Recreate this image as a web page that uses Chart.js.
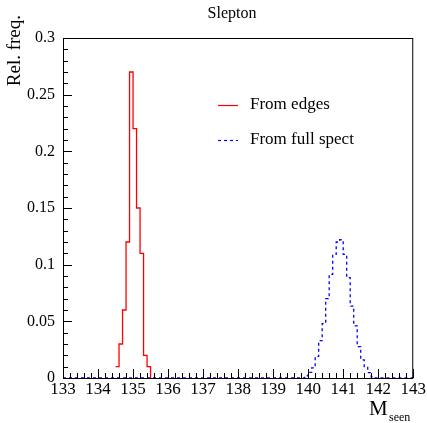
<!DOCTYPE html>
<html>
<head>
<meta charset="utf-8">
<script src="https://cdn.jsdelivr.net/npm/chart.js@4/dist/chart.umd.min.js"></script>
<style>
  html, body { margin: 0; padding: 0; background: #fff; }
  #wrap { width: 427px; height: 423px; }
</style>
</head>
<body>
<div id="wrap"><canvas id="c" width="427" height="423"></canvas></div>
<script>
// 軸の範囲とビン幅
const xMin = 133, xMax = 143, binWidth = 0.1;
const xTickLabels = [133, 134, 135, 136, 137, 138, 139, 140, 141, 142, 143];
const yTickLabels = [0, 0.05, 0.1, 0.15, 0.2, 0.25, 0.3];

// From edges (赤)
const edgesStart = 134.5;
const edgesValues = [0.010, 0.030, 0.060, 0.120, 0.270, 0.220, 0.150, 0.110, 0.020, 0.010];

// From full spect (青, 点線)
const fullStart = 139.9;
const fullValues = [0.002, 0.005, 0.009, 0.019, 0.033, 0.048, 0.070, 0.0915, 0.109, 0.120,
                    0.122, 0.109, 0.0885, 0.0635, 0.046, 0.0276, 0.016, 0.010, 0.0047, 0.001];

const seriesLabels = ['From edges', 'From full spect'];

// ヒストグラムの階段点を作る
function histPoints(start, values, from, to) {
    const pts = [];
    const n = Math.round((to - from) / binWidth);
    for (let i = 0; i < n; i++) {
        const x = +(from + i * binWidth).toFixed(2);
        const k = Math.round((x - start) / binWidth);
        pts.push({ x: x, y: (k >= 0 && k < values.length) ? values[k] : 0 });
    }
    pts.push({ x: to, y: 0 });
    return pts;
}

const serif = "'Liberation Serif', 'DejaVu Serif', serif";

// 枠・目盛り・凡例・タイトル
const decorPlugin = {
    id: 'decor',
    afterDraw(chart) {
        const ctx = chart.ctx;
        const a = chart.chartArea;
        const xs = chart.scales.x, ys = chart.scales.y;
        ctx.save();
        ctx.strokeStyle = '#000';
        ctx.lineWidth = 1;
        ctx.strokeRect(a.left + 0.5, a.top + 0.5, a.right - a.left - 1, a.bottom - a.top);

        // x の目盛り (主 1, 副 0.2)
        ctx.beginPath();
        for (let i = 0; i <= 50; i++) {
            const v = xMin + i * 0.2;
            const px = Math.round(xs.getPixelForValue(v)) + 0.5;
            const len = (i % 5 === 0) ? 9 : 5;
            ctx.moveTo(px, a.bottom);
            ctx.lineTo(px, a.bottom - len);
        }
        // y の目盛り (主 0.05, 副 0.01)
        for (let i = 0; i <= 30; i++) {
            const v = i * 0.01;
            const py = Math.round(ys.getPixelForValue(v)) + 0.5;
            const len = (i % 5 === 0) ? 9 : 5;
            ctx.moveTo(a.left, py);
            ctx.lineTo(a.left + len, py);
        }
        ctx.stroke();

        // タイトル
        ctx.fillStyle = '#000';
        ctx.textAlign = 'center';
        ctx.textBaseline = 'middle';
        ctx.font = '16px ' + serif;
        ctx.fillText('Slepton', 232, 14);

        // y 軸タイトル (上端揃え)
        ctx.save();
        ctx.translate(15, 15);
        ctx.rotate(-Math.PI / 2);
        ctx.textAlign = 'right';
        ctx.textBaseline = 'middle';
        ctx.font = '19px ' + serif;
        ctx.fillText('Rel. freq.', 0, 0);
        ctx.restore();

        // x 軸タイトル M_seen
        ctx.textAlign = 'left';
        ctx.textBaseline = 'alphabetic';
        ctx.font = '21px ' + serif;
        ctx.fillText('M', 369, 415);
        ctx.font = '12px ' + serif;
        ctx.fillText('seen', 389, 421);

        // 凡例
        const items = chart.data.datasets;
        const ly = [105, 140];
        items.forEach((ds, i) => {
            ctx.beginPath();
            ctx.strokeStyle = ds.borderColor;
            ctx.lineWidth = 1.2;
            ctx.setLineDash(ds.borderDash || []);
            ctx.moveTo(218, ly[i] + 0.5);
            ctx.lineTo(238, ly[i] + 0.5);
            ctx.stroke();
            ctx.setLineDash([]);
            ctx.fillStyle = '#000';
            ctx.font = '17px ' + serif;
            ctx.textBaseline = 'middle';
            ctx.fillText(ds.label, 250, ly[i]);
        });
        ctx.restore();
    }
};

new Chart(document.getElementById('c'), {
    type: 'line',
    data: {
        datasets: [
            {
                label: seriesLabels[0],
                data: histPoints(edgesStart, edgesValues, edgesStart, +(edgesStart + edgesValues.length * binWidth).toFixed(2)),
                borderColor: '#ff0000',
                borderWidth: 1.3,
                stepped: 'before',
                pointRadius: 0,
                fill: false
            },
            {
                label: seriesLabels[1],
                data: histPoints(fullStart, fullValues, xMin, xMax),
                borderColor: '#0000ff',
                borderWidth: 1.3,
                borderDash: [3, 3],
                stepped: 'before',
                pointRadius: 0,
                fill: false
            }
        ]
    },
    options: {
        responsive: false,
        animation: false,
        layout: { padding: { top: 38, right: 13, left: 0, bottom: 0 } },
        plugins: { legend: { display: false }, tooltip: { enabled: false } },
        scales: {
            x: {
                type: 'linear',
                min: xMin,
                max: xMax,
                afterFit(scale) { scale.height = 45; },
                afterBuildTicks(scale) { scale.ticks = xTickLabels.map(v => ({ value: v })); },
                grid: { display: false, drawTicks: false },
                border: { display: false },
                ticks: {
                    color: '#000',
                    font: { family: serif, size: 17 },
                    padding: 1,
                    maxRotation: 0,
                    callback: v => String(v)
                }
            },
            y: {
                min: 0,
                max: 0.3,
                afterFit(scale) { scale.width = 63; },
                afterBuildTicks(scale) { scale.ticks = yTickLabels.map(v => ({ value: v })); },
                grid: { display: false, drawTicks: false },
                border: { display: false },
                ticks: {
                    color: '#000',
                    font: { family: serif, size: 16 },
                    padding: 8,
                    callback: v => String(+v.toFixed(2))
                }
            }
        }
    },
    plugins: [decorPlugin]
});
</script>
</body>
</html>
